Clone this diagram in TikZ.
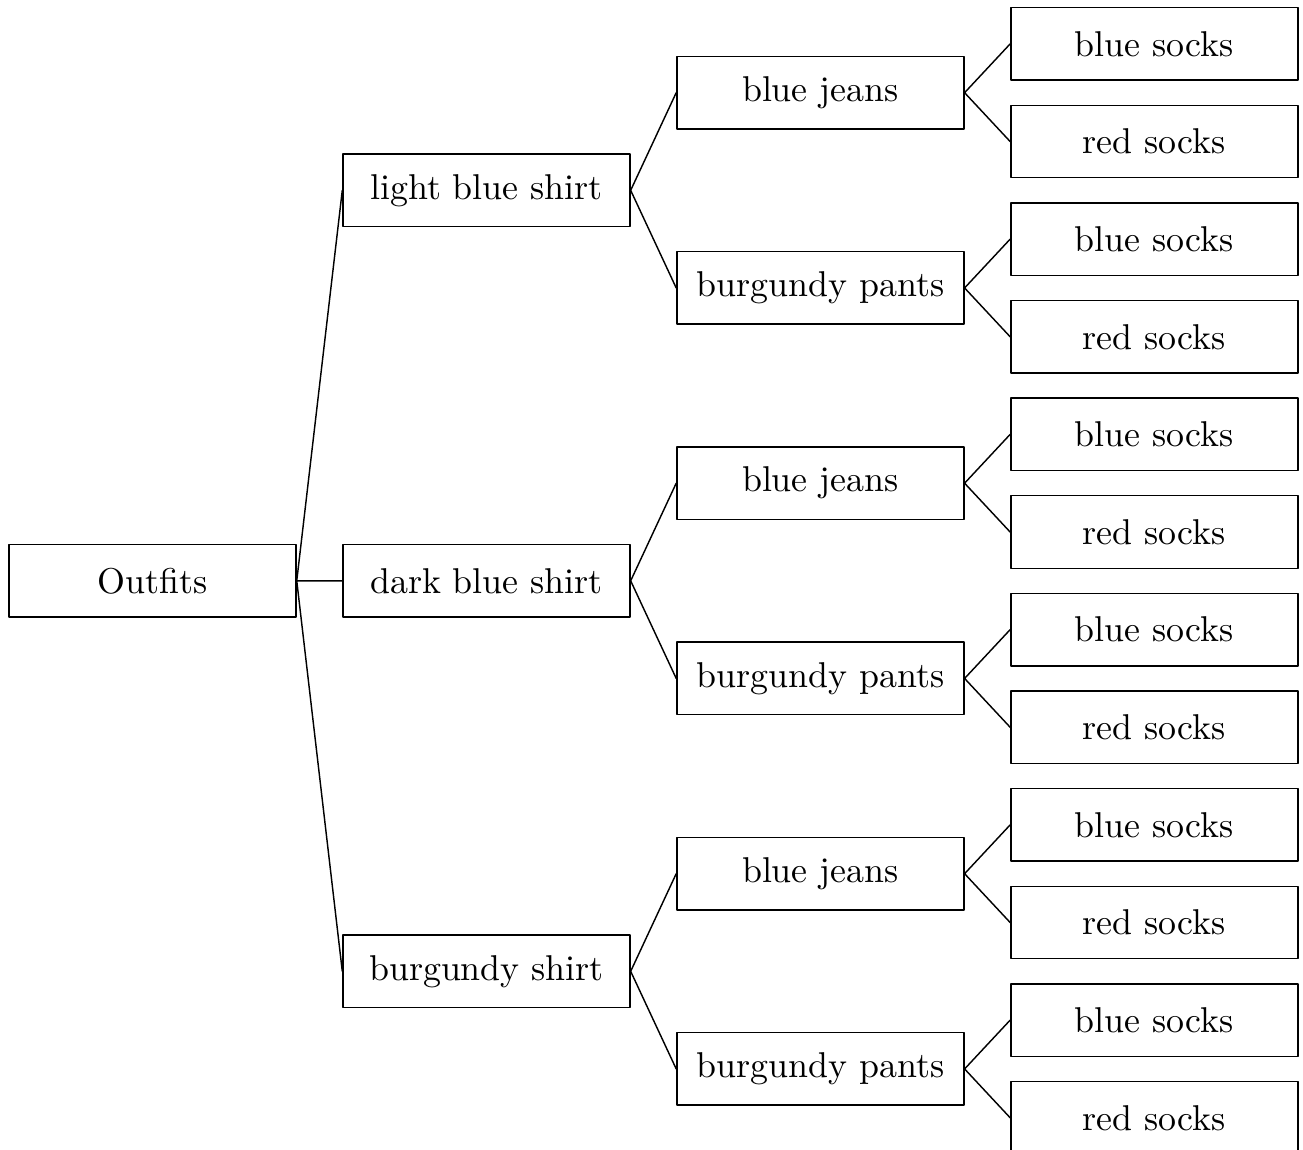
\documentclass[tikz,border=0pt]{standalone}
\begin{document}
\begin{tikzpicture}[line join=round,line cap=round,
	box/.style={draw,minimum width=2.81cm,minimum height=0.71cm}]
	\def\dx{3.27} % khoang cach giua hai cot
	\def\dy{0.478} % nua khoang cach giua hai la
	\useasboundingbox (-1.494,-5.571) rectangle (11.266,5.688);
	% goc
	\node[box] (O) at (0,0) {Outfits};
	% cot ao
	\node[box] (A1) at (\dx,8*\dy) {light blue shirt};
	\node[box] (A2) at (\dx,0) {dark blue shirt};
	\node[box] (A3) at (\dx,-8*\dy) {burgundy shirt};
	% cot quan
	\node[box] (Q11) at (2*\dx,10*\dy) {blue jeans};
	\node[box] (Q12) at (2*\dx,6*\dy) {burgundy pants};
	\node[box] (Q21) at (2*\dx,2*\dy) {blue jeans};
	\node[box] (Q22) at (2*\dx,-2*\dy) {burgundy pants};
	\node[box] (Q31) at (2*\dx,-6*\dy) {blue jeans};
	\node[box] (Q32) at (2*\dx,-10*\dy) {burgundy pants};
	% cot tat
	\node[box] (T111) at (3*\dx,11*\dy) {blue socks};
	\node[box] (T112) at (3*\dx,9*\dy) {red socks};
	\node[box] (T121) at (3*\dx,7*\dy) {blue socks};
	\node[box] (T122) at (3*\dx,5*\dy) {red socks};
	\node[box] (T211) at (3*\dx,3*\dy) {blue socks};
	\node[box] (T212) at (3*\dx,1*\dy) {red socks};
	\node[box] (T221) at (3*\dx,-1*\dy) {blue socks};
	\node[box] (T222) at (3*\dx,-3*\dy) {red socks};
	\node[box] (T311) at (3*\dx,-5*\dy) {blue socks};
	\node[box] (T312) at (3*\dx,-7*\dy) {red socks};
	\node[box] (T321) at (3*\dx,-9*\dy) {blue socks};
	\node[box] (T322) at (3*\dx,-11*\dy) {red socks};
	% ve cac nhanh
	\draw (O.east)--(A1.west) (O.east)--(A2.west) (O.east)--(A3.west);
	\draw (A1.east)--(Q11.west) (A1.east)--(Q12.west);
	\draw (A2.east)--(Q21.west) (A2.east)--(Q22.west);
	\draw (A3.east)--(Q31.west) (A3.east)--(Q32.west);
	\draw (Q11.east)--(T111.west) (Q11.east)--(T112.west);
	\draw (Q12.east)--(T121.west) (Q12.east)--(T122.west);
	\draw (Q21.east)--(T211.west) (Q21.east)--(T212.west);
	\draw (Q22.east)--(T221.west) (Q22.east)--(T222.west);
	\draw (Q31.east)--(T311.west) (Q31.east)--(T312.west);
	\draw (Q32.east)--(T321.west) (Q32.east)--(T322.west);
\end{tikzpicture}
\end{document}
